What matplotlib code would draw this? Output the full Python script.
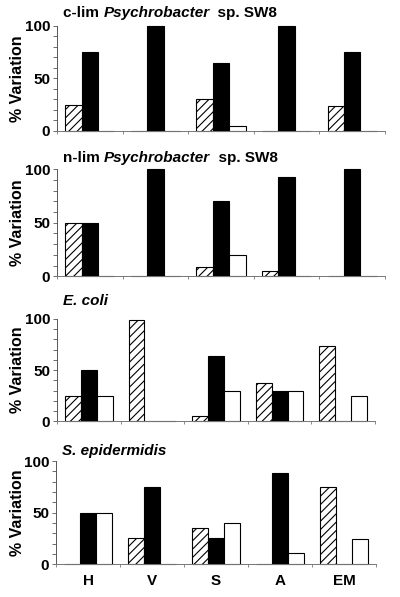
#!/usr/bin/python3
# -*- coding: utf-8 -*-

import matplotlib
matplotlib.use('Agg')
import matplotlib.pyplot as plt
import numpy as np

## Fonts
plt.rcParams['font.family'] = ['Liberation Sans', 'DejaVu Sans']
plt.rcParams['hatch.linewidth'] = 0.8

## Data
groups = ['H', 'V', 'S', 'A', 'EM']
hatched_c = [25, 0, 30, 0, 24]
black_c   = [75, 100, 65, 100, 75]
white_c   = [0, 0, 5, 0, 0]

hatched_n = [50, 0, 9, 5, 0]
black_n   = [50, 100, 70, 93, 100]
white_n   = [0, 0, 20, 0, 0]

hatched_e = [25, 99, 5, 37, 74]
black_e   = [50, 0, 64, 30, 0]
white_e   = [25, 0, 30, 30, 25]

hatched_s = [0, 25, 35, 0, 75]
black_s   = [50, 75, 25, 88, 0]
white_s   = [50, 0, 40, 11, 24]

titles = [('c-lim ', 'Psychrobacter', '  sp. SW8'),
          ('n-lim ', 'Psychrobacter', '  sp. SW8'),
          ('', 'E. coli', ''),
          ('', 'S. epidermidis', '')]
panels = [(hatched_c, black_c, white_c),
          (hatched_n, black_n, white_n),
          (hatched_e, black_e, white_e),
          (hatched_s, black_s, white_s)]

# axes rectangles [left, bottom, width, height] in figure fraction
rects = [[0.1425, 0.7806, 0.820, 0.1759],
         [0.1425, 0.5372, 0.820, 0.1792],
         [0.1425, 0.2943, 0.795, 0.1714],
         [0.1400, 0.0548, 0.800, 0.1730]]
# title baseline offsets above the axes top, in pixels
title_gap = [6, 4, 11, 3]

fig = plt.figure(figsize=(4.0, 5.97), dpi=100)
x = np.arange(len(groups)) + 0.5
w = 0.25

for i, (rect, (h, b, wt), ttl) in enumerate(zip(rects, panels, titles)):
    ax = fig.add_axes(rect)
    ax.bar(x - w, h, w, color='white', edgecolor='black', hatch='////',
           linewidth=0.8, clip_on=False)
    ax.bar(x, b, w, color='black', edgecolor='black', linewidth=0.8, clip_on=False)
    ax.bar(x + w, wt, w, color='white', edgecolor='black', linewidth=0.8, clip_on=False)

    ax.set_xlim(0, len(groups))
    ax.set_ylim(0, 100)
    for s in ['top', 'right']:
        ax.spines[s].set_visible(False)
    ax.spines['left'].set_color('#555555')
    ax.spines['left'].set_linewidth(0.7)
    ax.spines['bottom'].set_color('#777777')
    ax.spines['bottom'].set_linewidth(0.7)

    ax.set_yticks([0, 50, 100])
    ax.set_yticks(np.arange(0, 101, 10), minor=True)
    ax.tick_params(axis='y', which='both', direction='out', length=3,
                   width=0.6, color='#555555', labelsize=11, pad=2)
    for lab in ax.get_yticklabels():
        lab.set_fontweight('bold')

    ax.set_xticks(np.arange(len(groups) + 1))
    ax.set_xticks(x, minor=True)
    ax.tick_params(axis='x', which='major', direction='out', length=2,
                   width=0.6, color='#777777', labelbottom=False)
    ax.tick_params(axis='x', which='minor', length=0)
    if i == 3:
        ax.set_xticklabels(groups, minor=True, fontsize=11, fontweight='bold')
        ax.tick_params(axis='x', which='minor', pad=7)

    ax.set_ylabel('% Variation', fontsize=11.5, fontweight='bold')
    wpx = rect[2] * 400
    ax.yaxis.set_label_coords(-(rect[0] * 400 - 25) / wpx, 0.5)

    # title made of regular bold + bold italic pieces
    pre, ital, post = ttl
    hpx = rect[3] * 597
    t = ax.text(6 / wpx, 1 + title_gap[i] / hpx, pre, transform=ax.transAxes,
                fontsize=11, fontweight='bold', va='bottom', ha='left')
    t2 = ax.annotate(ital, xy=(1, 0), xycoords=t, fontsize=11,
                     fontweight='bold', fontstyle='italic', va='bottom', ha='left')
    if post:
        ax.annotate(post, xy=(1, 0), xycoords=t2, fontsize=11,
                    fontweight='bold', va='bottom', ha='left')

plt.savefig('out.png', dpi=100)
